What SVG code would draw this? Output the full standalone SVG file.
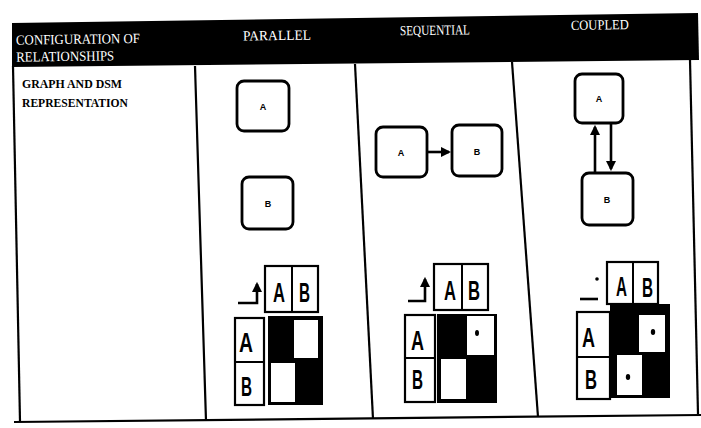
<svg xmlns="http://www.w3.org/2000/svg" width="701" height="428" viewBox="0 0 701 428">
<defs>
<style>
.hd{font-family:"Liberation Serif","DejaVu Serif",serif;font-size:14px;fill:#fff}
.rl{font-family:"Liberation Serif","DejaVu Serif",serif;font-size:13px;font-weight:bold;fill:#000}
.ln{stroke:#000;stroke-width:2.2;fill:none}
.nd{fill:#fff;stroke:#000;stroke-width:2.8}
.nl{font-family:"Liberation Sans",Arial,sans-serif;font-size:9px;font-weight:bold;fill:#000;text-anchor:middle}
.dl{font-family:"Liberation Sans",Arial,sans-serif;font-size:28px;font-weight:bold;fill:#000}
.bx{fill:#fff;stroke:#000;stroke-width:2.2}
.cn{stroke:#000;stroke-width:2.6;fill:none}
</style>
<marker id="ah" viewBox="0 0 10 10" refX="8" refY="5" markerWidth="4" markerHeight="4" orient="auto-start-reverse">
<path d="M0,0 L10,5 L0,10 z" fill="#000"/>
</marker>
</defs>
<rect width="701" height="428" fill="#fff"/>
<g id="table">
<polygon points="12,23 698,13 699,60 12,67" fill="#000"/>
<path class="ln" d="M13,66 L20,421"/>
<path class="ln" d="M195,66 L206,421"/>
<path class="ln" d="M355,64 L373,419"/>
<path class="ln" d="M512,62 L538,417"/>
<path class="ln" d="M690,60 L698,414"/>
<path class="ln" d="M14,422 L701,415" stroke-width="2.8"/>
</g>
<g id="header-text" transform="rotate(-0.8 350 40)">
<text class="hd" x="16" y="40" textLength="124" lengthAdjust="spacingAndGlyphs">CONFIGURATION OF</text>
<text class="hd" x="16" y="57" textLength="98" lengthAdjust="spacingAndGlyphs">RELATIONSHIPS</text>
<text class="hd" x="243" y="39" textLength="68" lengthAdjust="spacingAndGlyphs">PARALLEL</text>
<text class="hd" x="400" y="36" textLength="70" lengthAdjust="spacingAndGlyphs">SEQUENTIAL</text>
<text class="hd" x="571" y="33" textLength="58" lengthAdjust="spacingAndGlyphs">COUPLED</text>
</g>
<g id="row-label">
<text class="rl" x="22" y="88" textLength="100" lengthAdjust="spacingAndGlyphs">GRAPH AND DSM</text>
<text class="rl" x="22" y="107" textLength="106" lengthAdjust="spacingAndGlyphs">REPRESENTATION</text>
</g>
<g id="connectors">
<path class="cn" d="M427,152 L449,152" marker-end="url(#ah)"/>
<path class="cn" d="M595,175 L595,127" marker-end="url(#ah)"/>
<path class="cn" d="M611,123 L611,169" marker-end="url(#ah)"/>
</g>
<g id="par-A"><rect class="nd" x="237" y="81" width="52" height="50" rx="7"/><text class="nl" x="263" y="110">A</text></g>
<g id="par-B"><rect class="nd" x="242" y="177" width="51" height="52" rx="7"/><text class="nl" x="268" y="207">B</text></g>
<g id="seq-A"><rect class="nd" x="376" y="127" width="51" height="50" rx="7"/><text class="nl" x="401" y="156">A</text></g>
<g id="seq-B"><rect class="nd" x="452" y="125" width="50" height="51" rx="7"/><text class="nl" x="477" y="155">B</text></g>
<g id="cou-A"><rect class="nd" x="575" y="74" width="48" height="49" rx="7"/><text class="nl" x="599" y="102">A</text></g>
<g id="cou-B"><rect class="nd" x="582" y="173" width="51" height="52" rx="7"/><text class="nl" x="607" y="203">B</text></g>
<g id="dsm-parallel">
<path class="cn" d="M238,303 H257 V284" marker-end="url(#ah)"/>
<rect class="bx" x="265" y="266" width="53" height="46"/>
<line x1="292" y1="266" x2="292" y2="312" stroke="#000" stroke-width="2"/>
<text class="dl" x="273" y="302" textLength="12" lengthAdjust="spacingAndGlyphs">A</text><text class="dl" x="299" y="302" textLength="11" lengthAdjust="spacingAndGlyphs">B</text>
<rect class="bx" x="235" y="318" width="29" height="87"/>
<line x1="235" y1="362" x2="264" y2="362" stroke="#000" stroke-width="2"/>
<text class="dl" x="239" y="352" textLength="14" lengthAdjust="spacingAndGlyphs">A</text><text class="dl" x="241" y="396" textLength="11" lengthAdjust="spacingAndGlyphs">B</text>
<rect x="268" y="316" width="55" height="89" fill="#000"/>
<rect x="294" y="320" width="24" height="38" fill="#fff"/>
<rect x="271" y="363" width="24" height="39" fill="#fff"/>
</g>
<g id="dsm-sequential">
<path class="cn" d="M408,301 H425 V279" marker-end="url(#ah)"/>
<rect class="bx" x="434" y="264" width="54" height="46"/>
<line x1="462" y1="264" x2="462" y2="310" stroke="#000" stroke-width="2"/>
<text class="dl" x="444" y="300" textLength="12" lengthAdjust="spacingAndGlyphs">A</text><text class="dl" x="468" y="300" textLength="12" lengthAdjust="spacingAndGlyphs">B</text>
<rect class="bx" x="405" y="315" width="30" height="87"/>
<line x1="405" y1="358" x2="435" y2="358" stroke="#000" stroke-width="2"/>
<text class="dl" x="411" y="350" textLength="13" lengthAdjust="spacingAndGlyphs">A</text><text class="dl" x="412" y="389" textLength="11" lengthAdjust="spacingAndGlyphs">B</text>
<rect x="437" y="314" width="60" height="89" fill="#000"/>
<rect x="467" y="316" width="27" height="39" fill="#fff"/>
<rect x="441" y="359" width="25" height="40" fill="#fff"/>
<ellipse cx="477" cy="333" rx="2" ry="3" fill="#000"/>
</g>
<g id="dsm-coupled">
<path class="cn" d="M580,299 H598"/>
<circle cx="597" cy="279" r="1.8" fill="#000"/>
<rect class="bx" x="607" y="262" width="51" height="42"/>
<line x1="633" y1="262" x2="633" y2="304" stroke="#000" stroke-width="2"/>
<text class="dl" x="616" y="296" textLength="11" lengthAdjust="spacingAndGlyphs">A</text><text class="dl" x="642" y="297" textLength="11" lengthAdjust="spacingAndGlyphs">B</text>
<rect class="bx" x="577" y="312" width="33" height="87"/>
<line x1="577" y1="357" x2="610" y2="357" stroke="#000" stroke-width="2"/>
<text class="dl" x="582" y="347" textLength="13" lengthAdjust="spacingAndGlyphs">A</text><text class="dl" x="585" y="389" textLength="12" lengthAdjust="spacingAndGlyphs">B</text>
<rect x="610" y="304" width="60" height="94" fill="#000"/>
<rect x="639" y="315" width="26" height="37" fill="#fff"/>
<rect x="617" y="355" width="25" height="40" fill="#fff"/>
<ellipse cx="653" cy="332" rx="2.2" ry="3" fill="#000"/>
<ellipse cx="628" cy="377" rx="2.2" ry="3" fill="#000"/>
</g>
</svg>
